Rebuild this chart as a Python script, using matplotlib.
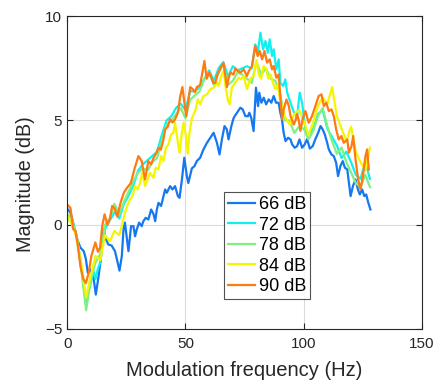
import matplotlib
matplotlib.use("Agg")
import matplotlib.pyplot as plt

plt.rcParams['font.family'] = ['Liberation Sans', 'DejaVu Sans']

# 66 dB
f66 = [0.3, 1.4, 2.5, 4.2, 5.6, 7.0, 7.9, 8.7, 9.8, 11.2, 12.1, 13.1, 14.2, 15.3, 16.4, 17.4,
       18.8, 20.2, 21.2, 22.1, 23.1, 23.8, 24.4, 25.9, 27.0, 28.0, 28.7, 29.4, 30.4, 31.5, 32.2,
       33.2, 34.3, 35.5, 36.5, 37.2, 37.9, 38.6, 39.7, 40.7, 41.4, 42.1, 43.5, 44.5, 45.6, 46.8,
       47.5, 48.5, 49.5, 50.6, 51.2, 52.7, 53.8, 54.8, 56.2, 57.6, 59.1, 60.5, 61.9, 63.3, 64.4,
       65.4, 66.5, 67.5, 68.2, 69.4, 70.4, 71.8, 73.2, 74.2, 75.3, 76.4, 77.0, 77.8, 78.8, 79.8,
       80.7, 81.2, 82.1, 83.1, 84.1, 85.2, 86.3, 87.3, 88.3, 89.4, 90.1, 90.8, 91.5, 92.3, 93.4,
       94.4, 95.1, 96.2, 97.2, 98.2, 99.3, 100.4, 101.4, 102.6, 103.8, 104.9, 106.1, 107.1, 108.0,
       108.9, 109.9, 110.6, 111.7, 112.7, 113.7, 114.5, 115.5, 116.5, 117.4, 118.4, 119.1, 119.8,
       120.8, 121.9, 122.9, 123.7, 124.7, 125.6, 126.4, 127.3, 128.2]
db66 = [0.73, 0.57, 0.1, -0.7, -1.1, -1.27, -1.65, -2.3, -2.15, -2.6, -3.35, -2.6, -1.67, -0.23,
        -0.7, -0.95, -1.0, -1.27, -1.75, -2.2, -1.5, -0.23, 0.1, -1.27, -0.07, -0.07, -0.55, -0.23,
        0.1, -0.07, 0.17, 0.33, 0.25, 0.73, 0.5, 0.17, 0.73, 1.05, 0.9, 1.37, 1.69, 1.53, 1.85,
        1.69, 1.85, 1.37, 1.29, 2.17, 3.21, 2.33, 2.0, 2.7, 2.81, 3.05, 3.21, 3.61, 3.93, 4.17,
        4.41, 3.93, 3.37, 4.09, 4.73, 4.57, 4.09, 4.73, 5.13, 5.37, 5.61, 5.53, 5.21, 5.2, 5.37,
        5.13, 4.49, 6.57, 5.69, 6.33, 5.85, 6.09, 5.77, 6.01, 5.85, 6.17, 5.85, 5.85, 5.37, 5.05,
        4.41, 4.01, 4.17, 4.09, 3.85, 3.69, 3.77, 4.09, 3.69, 3.85, 4.1, 3.65, 3.77, 4.1, 4.41,
        4.73, 4.57, 4.33, 3.93, 3.61, 3.37, 3.29, 2.97, 2.33, 2.81, 3.05, 2.73, 2.65, 2.01, 1.37,
        1.85, 2.17, 1.69, 1.45, 1.69, 1.37, 1.45, 1.05, 0.73]

# 72 dB
f72 = [0, 2, 4, 6, 8, 9, 10, 11, 12, 13, 14, 15, 16, 18, 20, 22, 24, 26, 28, 30, 32, 34, 36, 38,
       40, 42, 44, 46, 48, 50, 52, 54, 56, 58, 60, 62, 64, 66, 68, 70, 72, 74, 76, 78, 79.5, 80.6,
       81.7, 82.8, 83.8, 84.8, 85.6, 86.6, 87.3, 88.4, 89.4, 90.1, 91.3, 92.2, 93.0, 94.4, 95.8,
       97.2, 98.3, 99.3, 100.7, 102, 104, 106, 108, 110, 112, 114, 116, 118, 120, 122, 124, 126,
       128]
db72 = [0.3, 0.1, -0.5, -2.0, -3.9, -3.2, -2.8, -2.2, -2.6, -2.1, -1.8, -0.8, -0.2, 0.2, 0.6, 0.3,
        1.0, 1.4, 1.9, 2.6, 2.9, 3.1, 3.3, 3.5, 4.3, 5.0, 5.2, 5.6, 5.8, 5.5, 6.4, 6.4, 6.6, 7.0,
        7.4, 6.9, 7.5, 7.8, 7.1, 7.6, 7.4, 7.5, 7.6, 7.5, 8.65, 8.3, 9.21, 8.41, 8.81, 8.25, 8.89,
        8.09, 8.41, 7.45, 7.93, 6.81, 6.65, 6.97, 6.33, 5.85, 5.4, 5.2, 6.33, 5.85, 4.6, 4.3, 4.6,
        5.3, 5.5, 4.6, 4.2, 3.8, 3.2, 3.5, 3.0, 2.4, 2.2, 3.0, 2.2]

# 78 dB
f78 = list(range(0, 129, 2))
db78 = [0.5, 0.3, -0.6, -2.2, -4.1, -2.6, -1.8, -1.4, 0.0, 0.3, 1.0, 0.5, 1.1, 1.6, 2.1, 2.5,
        2.7, 2.6, 3.0, 3.2, 4.0, 4.8, 5.0, 5.3, 5.6, 5.1, 6.0, 6.2, 6.4, 7.0, 7.3, 6.7, 7.3,
        7.7, 6.7, 6.9, 7.3, 7.2, 7.0, 6.8, 7.8, 7.2, 7.5, 7.0, 6.9, 6.3, 5.0, 5.0, 4.4, 4.7,
        4.6, 4.1, 4.5, 5.2, 5.6, 4.7, 4.0, 3.4, 3.7, 3.0, 2.5, 2.0, 1.8, 2.4, 1.8]

# 84 dB
f84 = [0, 2, 4, 6, 8, 10, 12, 14, 16, 18, 20, 22, 23, 24.45, 25.6, 26.6, 27.6, 28.7, 29.8, 30.8,
       31.8, 32.9, 34.0, 35.0, 36.5, 37.4, 38.6, 39.7, 40.7, 41.7, 42.8, 43.9, 44.9, 45.6, 46.8,
       47.5, 48.5, 49.2, 50.2, 51.0, 51.6, 52.7, 54.1, 55.2, 56.2, 57.6, 59.1, 60.5, 61.9, 63.3,
       64.0, 65.4, 66.1, 67.0, 68.0, 68.7, 69.6, 71.1, 72.5, 73.6, 74.6, 76.0, 77.4, 78.8, 80, 81,
       82, 83, 84, 85, 86, 87, 88, 89, 90, 92, 94, 96, 98, 100, 102, 104, 106, 108, 110, 112,
       114, 116, 118, 120, 122, 124, 126, 128]
db84 = [0.4, 0.0, -0.6, -1.9, -3.5, -2.4, -1.5, -1.7, -0.5, -0.8, -0.3, -0.5, -0.1, 0.57, 0.97,
        1.21, 1.37, 1.85, 1.69, 2.01, 2.49, 1.85, 2.17, 2.49, 2.25, 2.73, 2.65, 3.29, 3.05, 3.69,
        3.85, 4.33, 4.41, 4.89, 3.93, 3.45, 4.41, 4.89, 4.25, 3.4, 4.3, 5.1, 5.45, 6.01, 5.77,
        6.17, 6.25, 6.49, 6.57, 6.81, 6.65, 7.21, 7.37, 6.6, 5.93, 5.77, 6.57, 6.81, 7.05, 6.97,
        7.13, 6.5, 7.0, 7.13, 7.9, 7.2, 7.0, 7.6, 7.5, 7.0, 7.2, 6.8, 6.5, 6.7, 6.0, 5.2, 4.8,
        5.3, 5.5, 5.0, 4.3, 4.9, 5.7, 6.1, 5.8, 6.6, 5.2, 4.6, 4.0, 4.7, 3.5, 3.0, 2.6, 3.7]

# 90 dB
f90 = [0.3, 1.4, 2.5, 3.5, 4.5, 5.6, 6.8, 7.9, 9.1, 10.2, 11.0, 11.9, 13.0, 13.9, 14.8, 15.8,
       17.0, 18.1, 19.0, 20.0, 21.2, 22.6, 24.0, 25.5, 26.9, 28.5, 30.1, 31.5, 32.9, 34.3, 35.5,
       36.5, 37.5, 38.6, 39.6, 40.7, 41.4, 42.5, 43.5, 44.5, 45.6, 46.8, 47.8, 48.7, 49.5, 50.3,
       51.0, 52.0, 53.1, 54.0, 54.8, 56.2, 57.0, 58.0, 59.0, 60.0, 60.8, 61.8, 62.6, 63.5, 64.4,
       65.2, 66.1, 67.5, 68.2, 69.0, 70.3, 71.1, 71.8, 73.2, 74.6, 76.0, 76.7, 78.1, 79.5, 80.5,
       81.4, 82.4, 83.4, 84.5, 85.6, 86.6, 87.3, 88.4, 89.4, 90.1, 90.8, 91.5, 92.7, 93.7, 94.4,
       95.8, 96.5, 97.2, 97.9, 98.6, 99.6, 100.7, 102.1, 103.5, 104.9, 106.3, 107.5, 108.5,
       109.5, 110.6, 111.7, 112.7, 113.7, 114.8, 115.9, 116.9, 118.4, 119.1, 120.2, 120.9,
       121.9, 123.0, 124.0, 125.0, 126.1, 126.8, 127.5]
db90 = [0.93, 0.8, -0.2, -0.3, -1.0, -2.0, -2.6, -2.8, -2.3, -1.5, -1.2, -0.85, -1.3, -1.1, -0.07,
        0.5, 0.0, 0.3, 0.9, 0.8, 0.4, 1.07, 1.55, 1.8, 2.0, 2.7, 3.29, 3.05, 2.17, 3.05, 2.9,
        3.21, 3.4, 3.69, 3.6, 4.09, 4.57, 4.7, 5.05, 4.9, 5.05, 5.37, 6.17, 6.6, 5.9, 5.2, 5.8,
        6.6, 6.5, 6.35, 6.6, 6.7, 7.2, 7.85, 7.0, 7.3, 7.1, 6.8, 6.8, 7.2, 7.4, 7.6, 7.75, 6.6,
        7.0, 7.3, 7.2, 7.5, 7.4, 7.29, 7.45, 7.13, 7.35, 7.6, 8.57, 8.09, 8.33, 7.93, 8.33, 7.77,
        7.93, 7.45, 7.61, 7.05, 7.21, 6.17, 5.05, 5.53, 6.0, 5.69, 5.21, 4.8, 5.0, 5.3, 5.0, 4.5,
        5.1, 5.45, 4.89, 5.21, 5.69, 6.17, 6.25, 5.69, 5.85, 5.45, 5.53, 5.21, 4.57, 4.09, 4.25,
        3.93, 4.09, 3.45, 3.77, 4.25, 3.13, 2.17, 1.69, 2.33, 3.29, 3.61, 2.65]

labels = ['66 dB', '72 dB', '78 dB', '84 dB', '90 dB']
colors = ['#1478F0', '#10F0F0', '#80F080', '#F5F500', '#FF7A10']
xs = [f66, f72, f78, f84, f90]
series = [db66, db72, db78, db84, db90]

fig = plt.figure(figsize=(4.48, 3.85), dpi=100)
ax = fig.add_axes([0.150, 0.1455, 0.792, 0.8125])
for x, y, c, l in zip(xs, series, colors, labels):
    ax.plot(x, y, color=c, lw=1.6, label=l)

ax.set_xlim(0, 150)
ax.set_ylim(-5, 10)
ax.set_xticks([0, 50, 100, 150])
ax.set_yticks([-5, 0, 5, 10])
ax.grid(True, color='#DCDCDC', lw=0.8)
ax.set_axisbelow(True)
ax.tick_params(direction='in', top=True, right=True, labelsize=11, length=4, color='#262626',
               labelcolor='#262626')
ax.tick_params(axis='x', pad=6)
for s in ax.spines.values():
    s.set_color('#262626')
    s.set_linewidth(0.8)
ax.set_xlabel('Modulation frequency (Hz)', fontsize=14.5, color='#262626', labelpad=7)
ax.set_ylabel('Magnitude (dB)', fontsize=14.2, color='#262626')
ax.yaxis.set_label_coords(-0.09, 0.463)
leg = ax.legend(loc='upper left', bbox_to_anchor=(0.442, 0.438), fontsize=13, frameon=True,
                fancybox=False, edgecolor='#262626', handlelength=1.5, handletextpad=0.2,
                labelspacing=0.2, borderpad=0.22, borderaxespad=0)
leg.get_frame().set_linewidth(0.8)
fig.savefig('out.png', dpi=100)
